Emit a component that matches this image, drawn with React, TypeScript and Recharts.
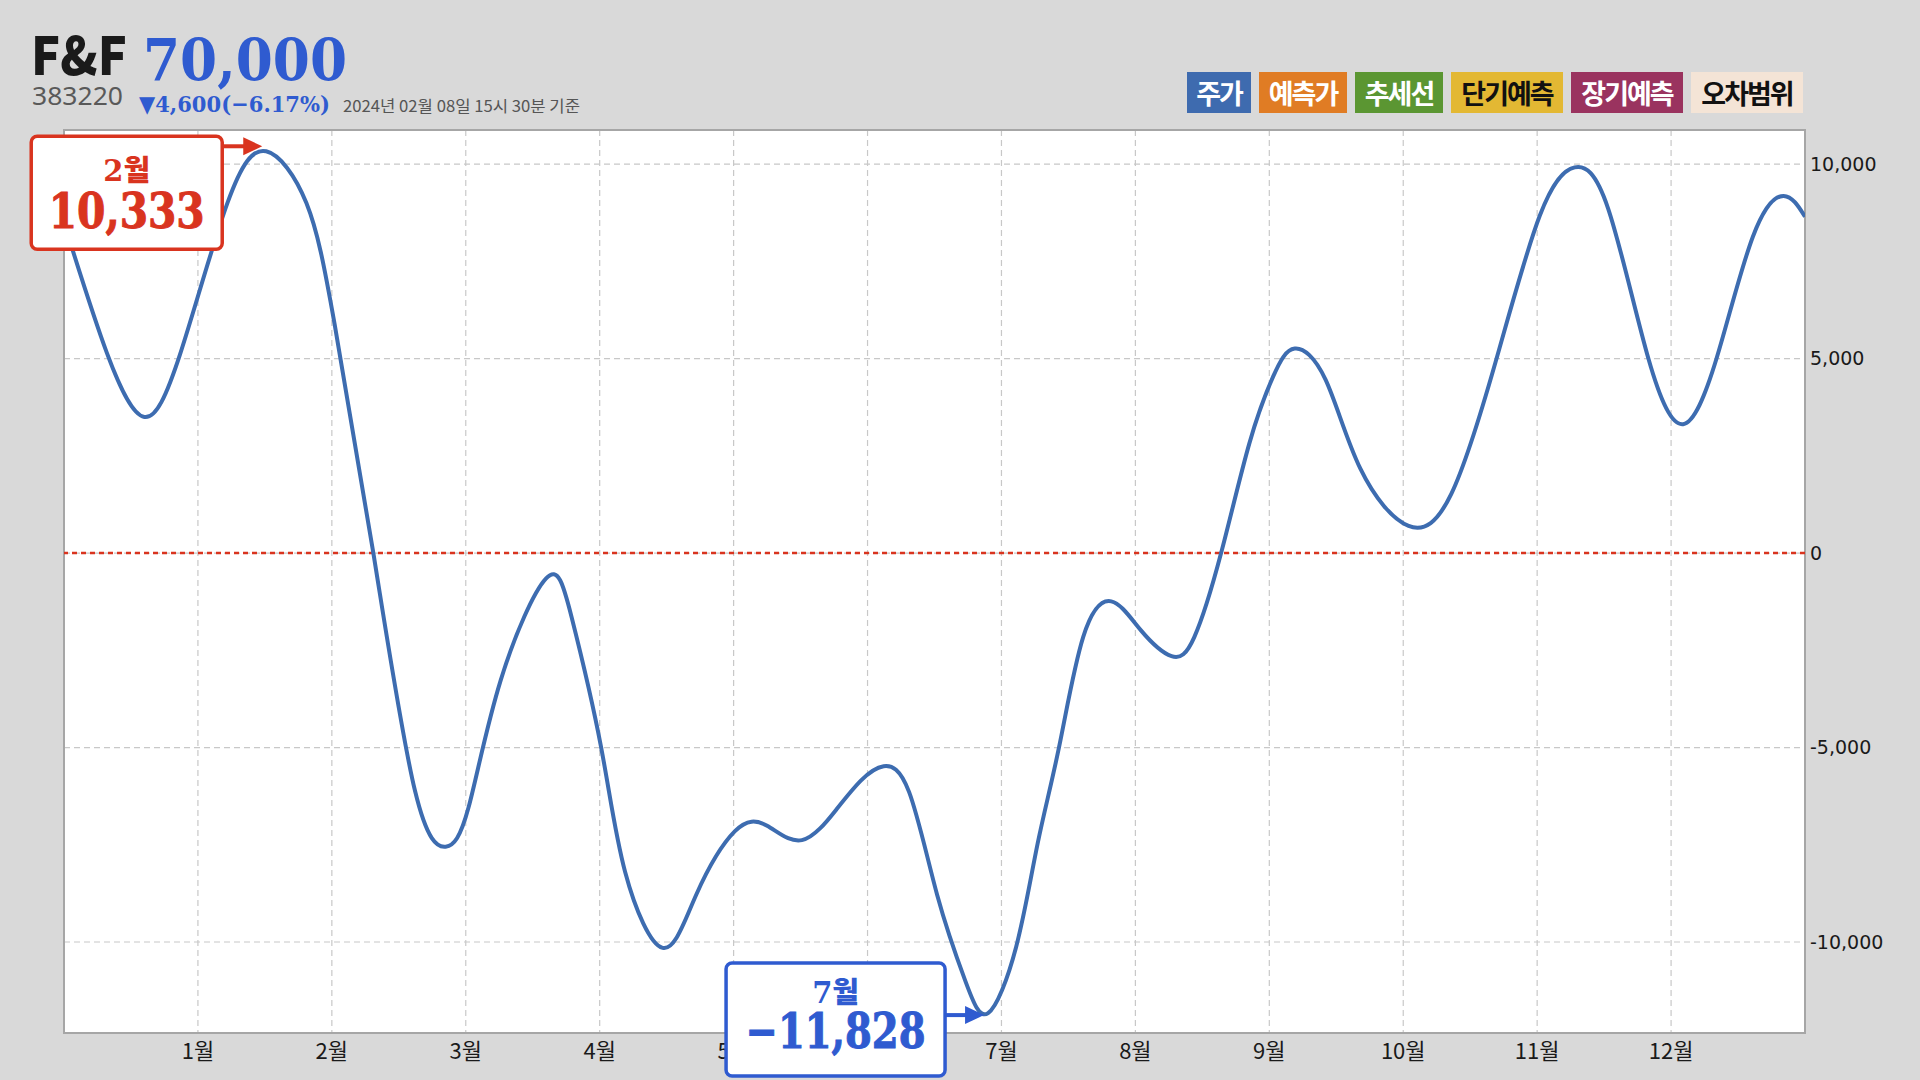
import React from 'react';
import {
  LineChart,
  Line,
  XAxis,
  YAxis,
  CartesianGrid,
  ReferenceLine,
  ReferenceArea,
  ReferenceDot,
} from 'recharts';

// ---- data ----
const X_POS = [
  0, 0.32, 0.6, 0.87, 1.22, 1.51, 1.81, 2.02, 2.31, 2.62, 2.85, 3.02, 3.26, 3.6, 3.79, 4.01, 4.19,
  4.47, 4.72, 5.01, 5.25, 5.51, 5.77, 5.95, 6.12, 6.31, 6.52, 6.73, 6.9, 7.11, 7.27, 7.43, 7.61,
  7.82, 8.04, 8.27, 8.44, 8.64, 8.85, 9.03, 9.19, 9.42, 9.68, 10.04, 10.36, 10.69, 11.02, 11.28,
  11.53, 11.83, 12.09, 12.34, 12.61, 12.84, 13.0,
];
const VALUES = [
  8500, 5150, 3500, 5150, 9000, 10333, 9000, 5900, 0, -6100, -7550, -6550, -3280, -650, -1640,
  -4980, -8200, -10150, -8790, -7150, -7010, -7380, -6580, -5850, -5480, -6140, -8790, -11000,
  -11828, -10120, -7470, -4990, -2160, -1240, -1980, -2650, -2160, 0, 2810, 4550, 5260, 4460,
  2170, 700, 1530, 4920, 8680, 9918, 8860, 5010, 3316, 5010, 8130, 9186, 8650,
];
const MONTH_TICKS = [1, 2, 3, 4, 5, 6, 7, 8, 9, 10, 11, 12];
const Y_TICKS = [-10000, -5000, 0, 5000, 10000];
const Y_DOMAIN = [-12340, 10880];
const X_DOMAIN = [0, 13];

const LEGEND_ITEMS = ['주가', '예측가', '추세선', '단기예측', '장기예측', '오차범위'];
const LEGEND_COLORS = ['#3e6baf', '#e07c24', '#5b9632', '#e3b833', '#9a335f', '#f4e4d6'];
const LEGEND_TEXT = ['#fff', '#fff', '#fff', '#111', '#fff', '#111'];

const TITLE_NAME = 'F&F';
const TITLE_CODE = '383220';
const TITLE_PRICE = '70,000';
const TITLE_CHANGE = '▼4,600(−6.17%)';
const TITLE_DATE = '2024년 02월 08일 15시 30분 기준';

const data = X_POS.map((x, i) => ({ x, v: VALUES[i] }));

let maxI = 0;
let minI = 0;
VALUES.forEach((v, i) => {
  if (v > VALUES[maxI]) maxI = i;
  if (v < VALUES[minI]) minI = i;
});
const PEAK = { x: X_POS[maxI], v: VALUES[maxI], label: `${Math.ceil(X_POS[maxI])}월` };
const TROUGH = { x: X_POS[minI], v: VALUES[minI], label: `${Math.ceil(X_POS[minI])}월` };

const fmt = (n: number) => (n < 0 ? '−' : '') + Math.abs(n).toLocaleString('en-US');

const RED = '#d9341f';
const BLUE = '#2f5bd0';
const LINE_BLUE = '#3d6cb0';
const SERIF = '"DejaVu Serif", "Noto Sans CJK KR", serif';
const CJK = '"Noto Sans CJK KR", "Noto Sans", sans-serif';

const Callout = (props: any) => {
  const { cx, cy, color, side, label, value } = props;
  if (cx == null || cy == null) return null;
  const up = side === 'top';
  const bw = up ? 191 : 219;
  const bh = 113;
  const bx = cx - (up ? 235 : 262);
  const by = up ? cy - 15 : cy - 50;
  const ay = up ? cy - 5 : cy + 2;
  const tipX = cx - 4;
  const midX = bx + bw / 2;
  const numLen = up ? 156 : 180;
  return (
    <g>
      <rect x={bx} y={by} width={bw} height={bh} rx={6} ry={6} fill="#fff" stroke={color} strokeWidth={3.5} />
      <line x1={bx + bw} y1={ay} x2={tipX - 16} y2={ay} stroke={color} strokeWidth={4} />
      <polygon points={`${tipX},${ay} ${tipX - 19},${ay - 9} ${tipX - 19},${ay + 9}`} fill={color} />
      <text
        x={midX}
        y={up ? cy + 30 : cy - 10}
        textAnchor="middle"
        fill={color}
        fontFamily={SERIF}
        fontWeight={900}
        fontSize={29}
      >
        {label}
      </text>
      <text
        x={midX}
        y={up ? cy + 77 : cy + 35}
        textAnchor="middle"
        fill={color}
        fontFamily={SERIF}
        fontWeight={700}
        fontSize={48}
        stroke={color}
        strokeWidth={1}
        textLength={numLen}
        lengthAdjust="spacingAndGlyphs"
      >
        {fmt(value)}
      </text>
    </g>
  );
};

const CHART_MARGIN = { top: 130, right: 0, bottom: 0, left: 64 };

export default function App() {
  return (
    <div
      style={{
        position: 'absolute',
        left: 0,
        top: 0,
        width: 1920,
        height: 1080,
        background: '#d9d9d9',
        overflow: 'hidden',
      }}
    >
      <svg width={1920} height={130} style={{ position: 'absolute', left: 0, top: 0 }}>
        <text x={31} y={75} fill="#1a1a1a" fontFamily={CJK} fontWeight={900} fontSize={53} textLength={96} lengthAdjust="spacingAndGlyphs">
          {TITLE_NAME}
        </text>
        <text x={143} y={80} fill={BLUE} fontFamily={SERIF} fontWeight={700} fontSize={58} textLength={204} lengthAdjust="spacingAndGlyphs">
          {TITLE_PRICE}
        </text>
        <text x={32} y={105} fill="#595959" fontFamily='"Noto Sans", sans-serif' fontSize={26} textLength={91} lengthAdjust="spacingAndGlyphs">
          {TITLE_CODE}
        </text>
        <text x={139} y={112} fill={BLUE} fontFamily={SERIF} fontWeight={700} fontSize={23} textLength={191} lengthAdjust="spacingAndGlyphs">
          {TITLE_CHANGE}
        </text>
        <text x={343} y={112} fill="#555" fontFamily={CJK} fontSize={16} textLength={237} lengthAdjust="spacingAndGlyphs">
          {TITLE_DATE}
        </text>
      </svg>

      <div style={{ position: 'absolute', left: 1187, top: 72, display: 'flex', gap: 8 }}>
        {LEGEND_ITEMS.map((t, i) => (
          <div
            key={t}
            style={{
              width: 16 + 24 * t.length,
              height: 41,
              background: LEGEND_COLORS[i],
              color: LEGEND_TEXT[i],
              fontFamily: CJK,
              fontWeight: 700,
              fontSize: 27,
              letterSpacing: -2,
              lineHeight: '41px',
              textAlign: 'center',
              whiteSpace: 'nowrap',
            }}
          >
            {t}
          </div>
        ))}
      </div>

      <div style={{ position: 'absolute', left: 0, top: 0 }}>
        <LineChart width={1920} height={1080} data={data} margin={CHART_MARGIN}>
          <CartesianGrid
            fill="#ffffff"
            stroke="#c8c8c8"
            strokeDasharray="6 4"
            strokeWidth={1.2}
            verticalValues={MONTH_TICKS}
            horizontalValues={Y_TICKS}
          />
          <XAxis
            dataKey="x"
            type="number"
            domain={X_DOMAIN}
            ticks={MONTH_TICKS}
            tickFormatter={(m: number) => `${m}월`}
            axisLine={false}
            tickLine={false}
            tickSize={0}
            tickMargin={10}
            height={47}
            allowDataOverflow
            tick={{ fill: '#1a1a1a', fontSize: 22, fontFamily: CJK }}
          />
          <YAxis
            orientation="right"
            type="number"
            domain={Y_DOMAIN}
            ticks={Y_TICKS}
            tickFormatter={(v: number) => v.toLocaleString('en-US')}
            axisLine={false}
            tickLine={false}
            tickSize={0}
            tickMargin={5}
            width={115}
            allowDataOverflow
            tick={{ fill: '#1a1a1a', fontSize: 19, fontFamily: '"DejaVu Sans", Verdana, sans-serif', textAnchor: 'start' }}
          />
          <ReferenceLine y={0} stroke={RED} strokeWidth={2.5} strokeDasharray="5 4" />
          <Line
            type="natural"
            dataKey="v"
            stroke={LINE_BLUE}
            strokeWidth={4}
            dot={false}
            activeDot={false}
            isAnimationActive={false}
          />
          <ReferenceArea
            x1={X_DOMAIN[0]}
            x2={X_DOMAIN[1]}
            y1={Y_DOMAIN[0]}
            y2={Y_DOMAIN[1]}
            fill="none"
            fillOpacity={0}
            stroke="#a6a6a6"
            strokeWidth={2}
            ifOverflow="visible"
          />
        </LineChart>
      </div>

      {/* overlay with identical scales so the callouts sit above the axis labels */}
      <div style={{ position: 'absolute', left: 0, top: 0 }}>
        <LineChart width={1920} height={1080} data={data} margin={CHART_MARGIN}>
          <XAxis
            dataKey="x"
            type="number"
            domain={X_DOMAIN}
            ticks={MONTH_TICKS}
            axisLine={false}
            tickLine={false}
            tick={false}
            height={47}
            allowDataOverflow
          />
          <YAxis
            orientation="right"
            type="number"
            domain={Y_DOMAIN}
            ticks={Y_TICKS}
            axisLine={false}
            tickLine={false}
            tick={false}
            width={115}
            allowDataOverflow
          />
          <ReferenceDot
            x={PEAK.x}
            y={PEAK.v}
            r={0}
            ifOverflow="visible"
            shape={(p: any) => <Callout {...p} color={RED} side="top" label={PEAK.label} value={PEAK.v} />}
          />
          <ReferenceDot
            x={TROUGH.x}
            y={TROUGH.v}
            r={0}
            ifOverflow="visible"
            shape={(p: any) => <Callout {...p} color={BLUE} side="bottom" label={TROUGH.label} value={TROUGH.v} />}
          />
        </LineChart>
      </div>
    </div>
  );
}
